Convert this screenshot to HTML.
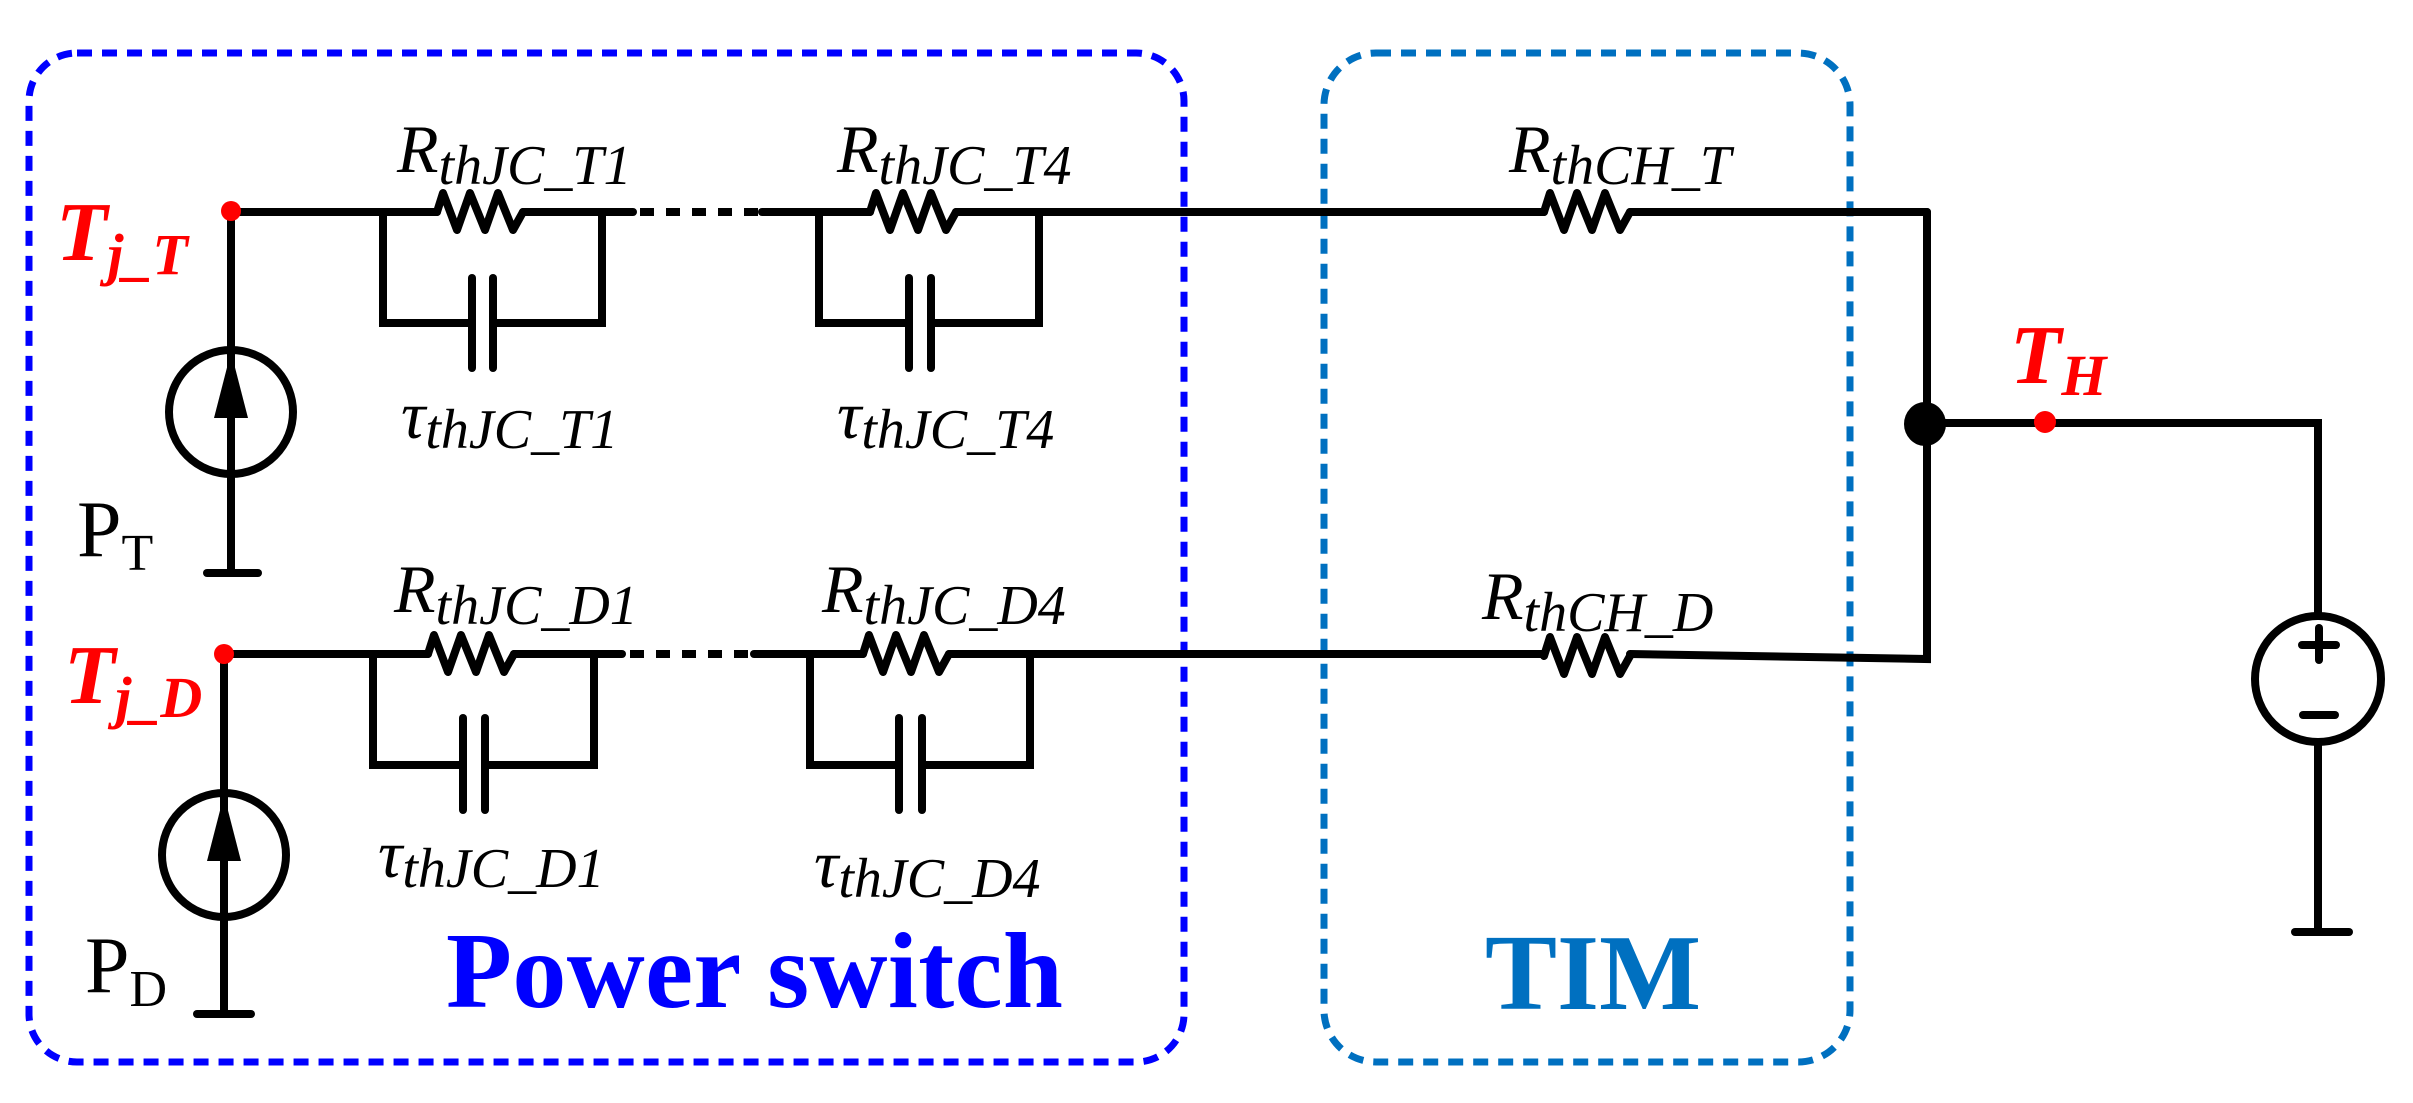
<!DOCTYPE html>
<html><head><meta charset="utf-8"><style>
html,body{margin:0;padding:0;background:#fff;}
svg{display:block;}
text{font-family:"Liberation Serif",serif;}
</style></head><body>
<svg width="2413" height="1103" viewBox="0 0 2413 1103" xmlns="http://www.w3.org/2000/svg">
<defs>
<g id="zig"><polyline points="0,0 6,-19 20,18 33,-19 48,18 61,-19 76,18 86,0" fill="none" stroke="#000" stroke-width="8" stroke-linejoin="round" stroke-linecap="round"/></g>
</defs>
<!-- boxes -->
<rect x="29" y="53" width="1155" height="1009" rx="48" fill="none" stroke="#0000ff" stroke-width="7" stroke-dasharray="15 10"/>
<rect x="1324" y="53" width="526" height="1009" rx="52" fill="none" stroke="#0070c0" stroke-width="7" stroke-dasharray="15 10"/>

<g stroke="#000" stroke-width="8" fill="none" stroke-linecap="round">
<!-- top row -->
<line x1="231" y1="212" x2="437" y2="212"/>
<line x1="523" y1="212" x2="633" y2="212"/>
<line x1="640" y1="212" x2="760" y2="212" stroke-dasharray="14 12" stroke-linecap="butt"/>
<line x1="762" y1="212" x2="870" y2="212"/>
<line x1="956" y1="212" x2="1544" y2="212"/>
<line x1="1630" y1="212" x2="1927" y2="212"/>
<polyline points="383,212 383,323 472,323"/>
<polyline points="493,323 602,323 602,212"/>
<line x1="472" y1="278" x2="472" y2="368"/>
<line x1="493" y1="278" x2="493" y2="368"/>
<polyline points="819,212 819,323 909,323"/>
<polyline points="931,323 1039,323 1039,212"/>
<line x1="909" y1="278" x2="909" y2="368"/>
<line x1="931" y1="278" x2="931" y2="368"/>
<!-- bottom row -->
<line x1="224" y1="654" x2="428" y2="654"/>
<line x1="514" y1="654" x2="622" y2="654"/>
<line x1="630" y1="654" x2="752" y2="654" stroke-dasharray="14 12" stroke-linecap="butt"/>
<line x1="754" y1="654" x2="863" y2="654"/>
<line x1="949" y1="654" x2="1544" y2="654"/>
<polyline points="1630,654 1927,659 1927,212"/>
<polyline points="373,654 373,765 463,765"/>
<polyline points="485,765 594,765 594,654"/>
<line x1="463" y1="718" x2="463" y2="810"/>
<line x1="485" y1="718" x2="485" y2="810"/>
<polyline points="810,654 810,765 899,765"/>
<polyline points="922,765 1030,765 1030,654"/>
<line x1="899" y1="718" x2="899" y2="810"/>
<line x1="922" y1="718" x2="922" y2="810"/>
<!-- sources -->
<line x1="231" y1="212" x2="231" y2="573"/>
<line x1="207" y1="573" x2="258" y2="573"/>
<circle cx="231" cy="412" r="62" stroke-width="8"/>
<line x1="224" y1="654" x2="224" y2="1014"/>
<line x1="197" y1="1014" x2="251" y2="1014"/>
<circle cx="224" cy="855" r="62" stroke-width="8"/>
<!-- right -->
<polyline points="1925,423 2318,423 2318,615"/>
<ellipse cx="2318" cy="679" rx="63" ry="63"/>
<line x1="2318" y1="742" x2="2318" y2="932"/>
<line x1="2295" y1="932" x2="2349" y2="932"/>
<line x1="2302" y1="645" x2="2336" y2="645"/>
<line x1="2319" y1="628" x2="2319" y2="660"/>
<line x1="2303" y1="715" x2="2335" y2="715"/>
</g>
<!-- arrows inside sources -->
<polygon points="231,352 214,418 248,418" fill="#000"/>
<polygon points="224,795 207,861 241,861" fill="#000"/>
<!-- resistors -->
<use href="#zig" x="437" y="212"/>
<use href="#zig" x="870" y="212"/>
<use href="#zig" x="428" y="654"/>
<use href="#zig" x="863" y="654"/>
<use href="#zig" x="1544" y="212"/>
<use href="#zig" x="1544" y="656"/>
<!-- dots -->
<circle cx="231" cy="211" r="10" fill="#f00"/>
<circle cx="224" cy="654" r="10" fill="#f00"/>
<circle cx="2045" cy="422" r="11" fill="#f00"/>
<ellipse cx="1925" cy="424" rx="21" ry="22" fill="#000"/>

<!-- labels -->
<g font-style="italic" fill="#000">
<text x="397" y="172" font-size="68">R<tspan font-size="56" dy="12">thJC_T1</tspan></text>
<text x="837" y="172" font-size="68">R<tspan font-size="56" dy="12">thJC_T4</tspan></text>
<text x="394" y="612" font-size="68">R<tspan font-size="56" dy="12">thJC_D1</tspan></text>
<text x="822" y="612" font-size="68">R<tspan font-size="56" dy="12">thJC_D4</tspan></text>
<text x="1509" y="172" font-size="68">R<tspan font-size="56" dy="12">thCH_T</tspan></text>
<text x="1482" y="619" font-size="68">R<tspan font-size="56" dy="12">thCH_D</tspan></text>
<text x="401" y="438" font-size="68">τ<tspan font-size="56" dy="10">thJC_T1</tspan></text>
<text x="837" y="438" font-size="68">τ<tspan font-size="56" dy="10">thJC_T4</tspan></text>
<text x="378" y="877" font-size="68">τ<tspan font-size="56" dy="10">thJC_D1</tspan></text>
<text x="814" y="887" font-size="68">τ<tspan font-size="56" dy="10">thJC_D4</tspan></text>
</g>
<text x="77" y="556" font-size="80" fill="#000">P<tspan font-size="52" dy="14">T</tspan></text>
<text x="85" y="992" font-size="80" fill="#000">P<tspan font-size="52" dy="14">D</tspan></text>
<g font-style="italic" font-weight="bold" fill="#f00">
<text x="56" y="260" font-size="84">T<tspan font-size="58" dy="14">j_T</tspan></text>
<text x="64" y="703" font-size="84">T<tspan font-size="58" dy="14">j_D</tspan></text>
<text x="2010" y="383" font-size="84">T<tspan font-size="58" dy="12">H</tspan></text>
</g>
<text x="446" y="1007" font-size="108" font-weight="bold" fill="#0000ff" textLength="617">Power switch</text>
<text x="1485" y="1009" font-size="108" font-weight="bold" fill="#0070c0" textLength="216">TIM</text>
</svg>
</body></html>
